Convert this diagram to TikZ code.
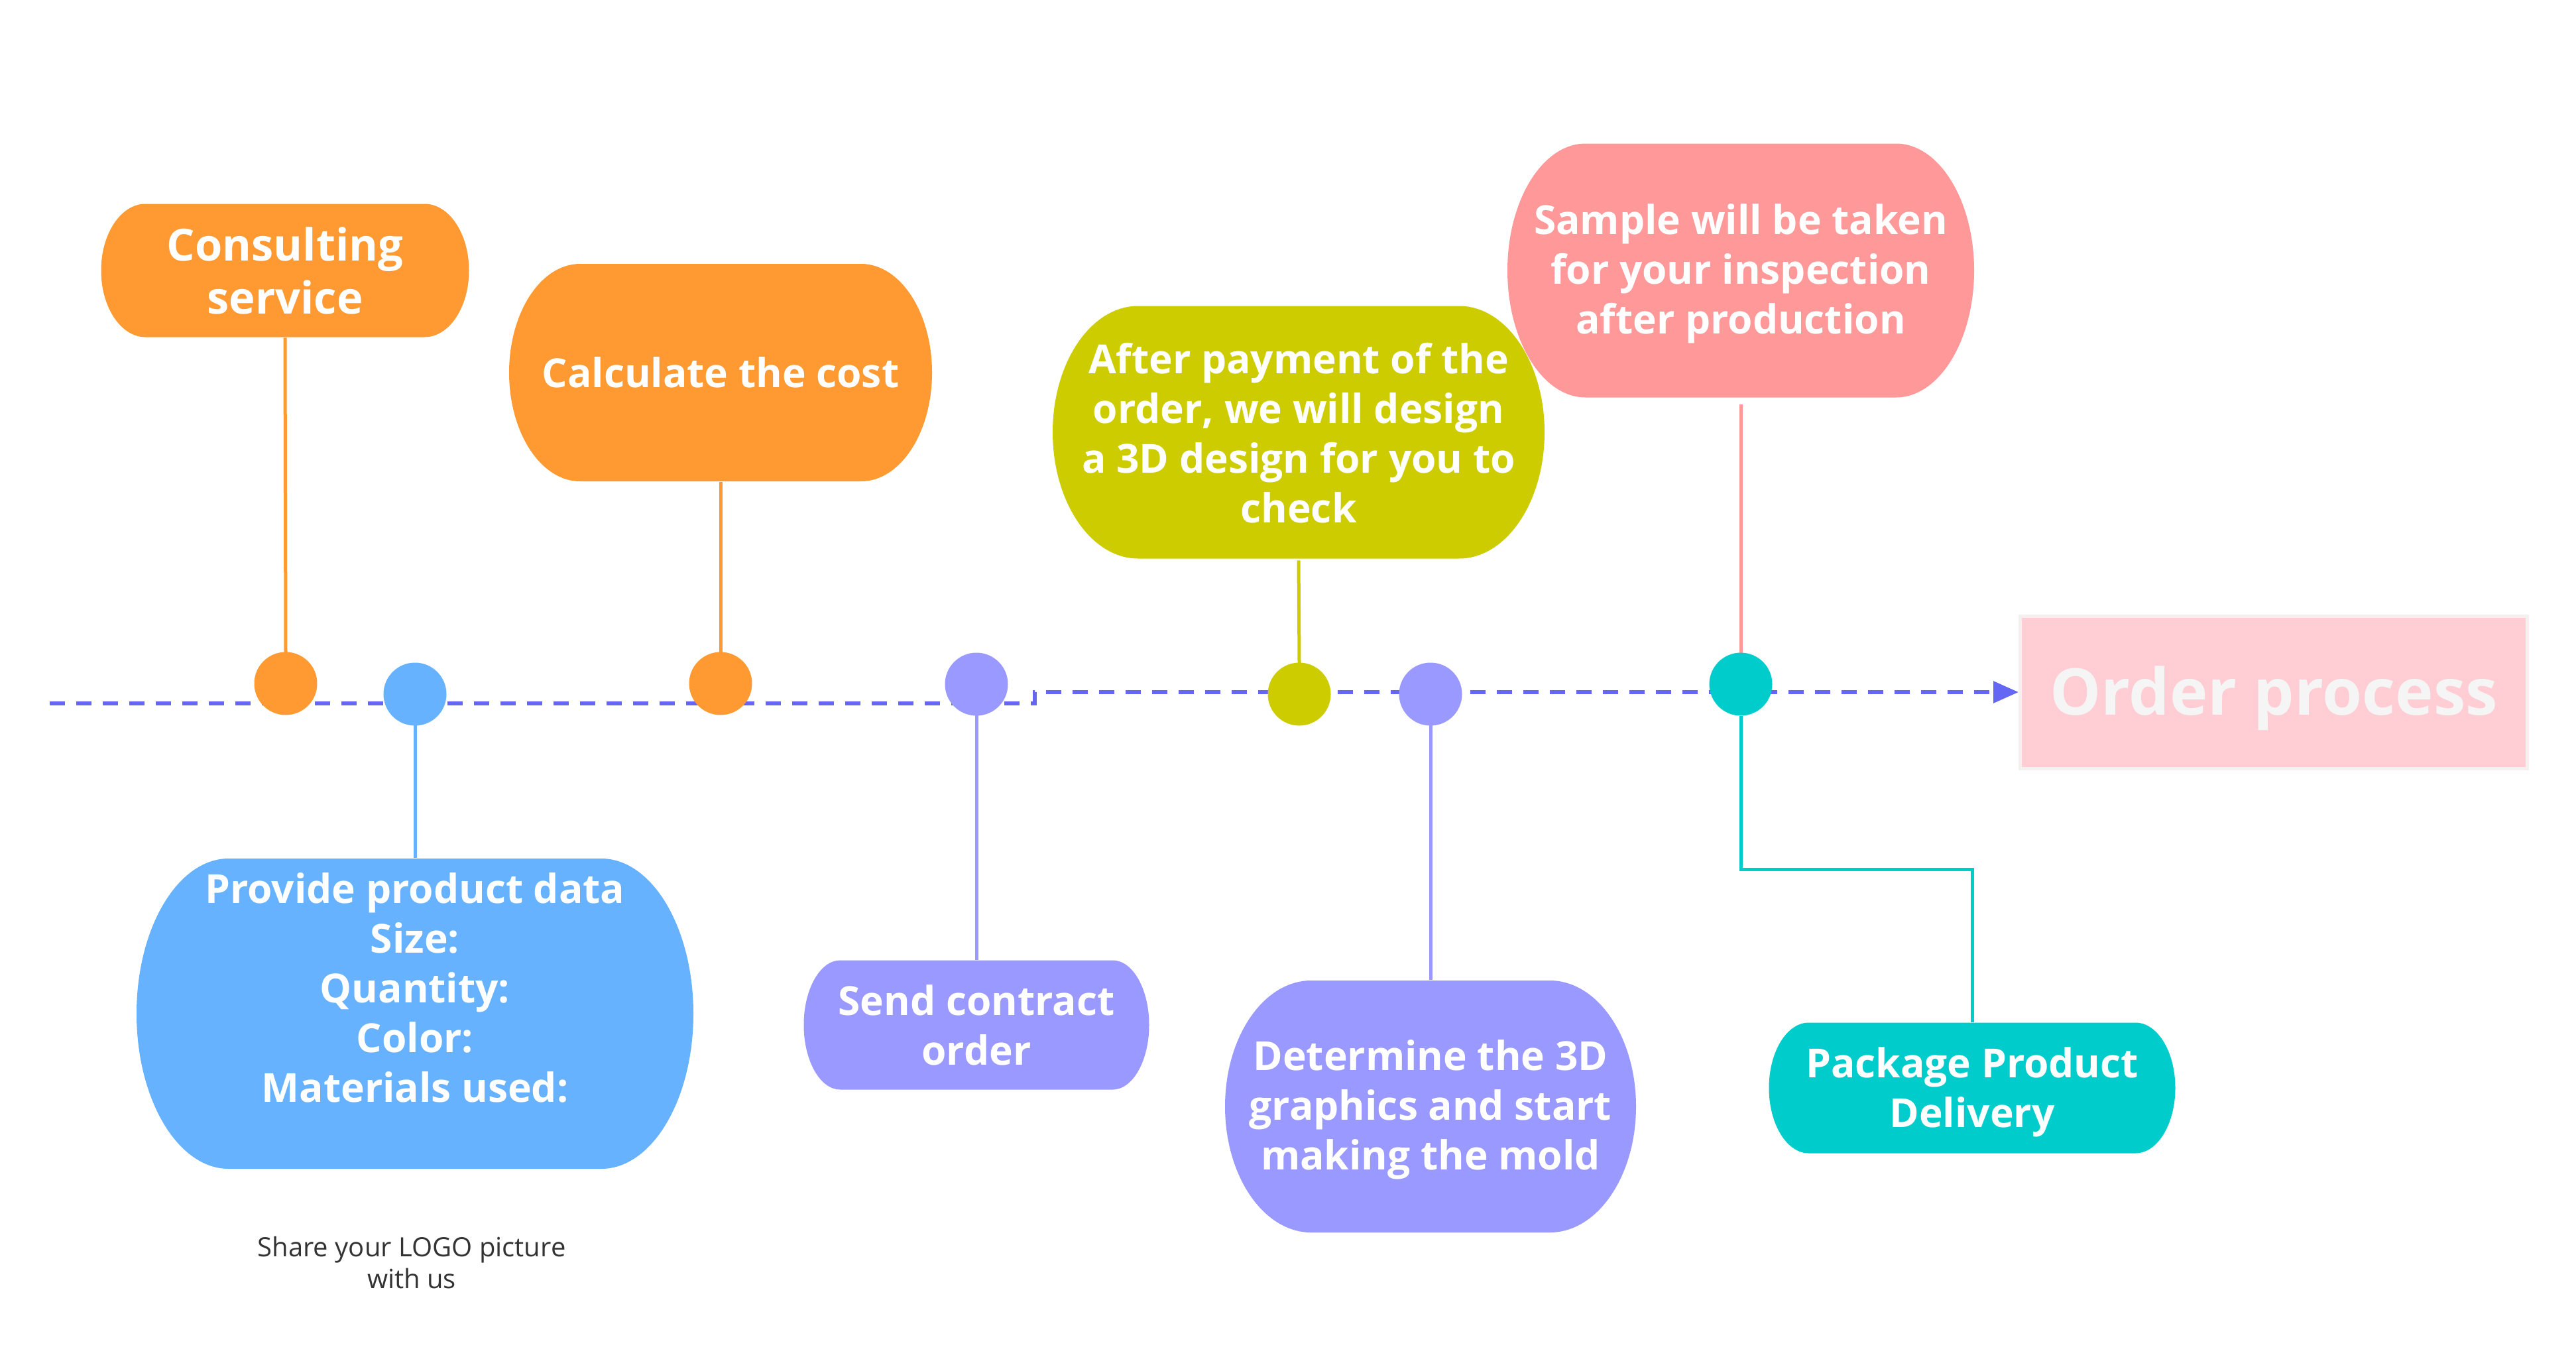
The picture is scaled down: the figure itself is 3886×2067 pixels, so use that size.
\documentclass[tikz,border=0pt]{standalone}
\usepackage{fontspec}
\setmainfont{Open Sans}
\usetikzlibrary{arrows.meta}
\definecolor{corange}{HTML}{FF9A33}
\definecolor{cblue}{HTML}{66B2FF}
\definecolor{cpurple}{HTML}{9999FF}
\definecolor{cyellow}{HTML}{CCCC00}
\definecolor{cpink}{HTML}{FF9999}
\definecolor{cteal}{HTML}{00CCCC}
\definecolor{cline}{HTML}{6666F5}
\definecolor{cobox}{HTML}{FFCDD3}
\definecolor{coborder}{HTML}{F4F0F0}
\definecolor{cotext}{HTML}{F5F5F5}
\definecolor{cshare}{HTML}{333333}
% name, colour, cx, cy, w, h, rx, text centre y, text
\newcommand\pbox[9]{%
  \fill[#2] (#3-#5/2+#7,#4-#6/2) -- (#3+#5/2-#7,#4-#6/2)
    arc[start angle=90,end angle=-90,x radius=#7*0.25pt,y radius=#6*0.125pt]
    -- (#3-#5/2+#7,#4+#6/2)
    arc[start angle=270,end angle=90,x radius=#7*0.25pt,y radius=#6*0.125pt] -- cycle;
  \node[boxtext,minimum width=#5*0.25pt,minimum height={2*(#8-(#4-#6/2))*0.25pt}] (#1) at (#3,#8) {#9};
}
\begin{document}
\begin{tikzpicture}[x=0.25pt,y=-0.25pt,
  boxtext/.style={inner sep=0pt,align=center,text=white,
    font=\fontsize{15.1}{18.75}\selectfont\bfseries},
  dot/.style={circle,inner sep=0pt,minimum size=95*0.25pt},
  conn/.style={line width=1.25pt},
  timeline/.style={draw=cline,line width=1.5pt,dash pattern=on 5.75pt off 4.25pt,
    -{Triangle[length=9.5pt,width=8pt]}},
]
\useasboundingbox (0,0) rectangle (3886,2067);

% order process box
\node[fill=cobox,draw=coborder,line width=1.25pt,minimum width=765*0.25pt,
  minimum height=230*0.25pt,inner sep=0pt,text=cotext,text height=17.4pt,text depth=0pt,
  font=\fontsize{24.3}{30}\selectfont\bfseries] (order) at (3430,1044) {Order process};

% timeline
\coordinate (tstart) at (75,1061);
\coordinate (stepA) at (1561,1061);
\coordinate (stepB) at (1561,1044);
\draw[timeline] (tstart) -- (stepA) -- (stepB) -- (order.west);

% boxes
\begin{scope}[boxtext/.append style={font=\fontsize{16.7}{20}\selectfont\bfseries}]
\pbox{consult}{corange}{430}{408}{555}{201}{67}{408}{Consulting\\service}
\end{scope}
\pbox{calc}{corange}{1087}{562}{638}{328}{107}{562}{Calculate the cost}
\pbox{pay}{cyellow}{1959}{652}{742}{381}{129}{653}{After payment of the\\order, we will design\\a 3D design for you to\\check}
\pbox{sample}{cpink}{2626}{408}{704}{383}{118}{413}{Sample will be taken\\for your inspection\\after production}
\pbox{provide}{cblue}{626}{1529}{840}{468}{139}{1490}{Provide product data\\Size:\\Quantity:\\Color:\\Materials used:}
\pbox{send}{cpurple}{1473}{1546}{521}{195}{55}{1546}{Send contract\\order}
\pbox{determine}{cpurple}{2158}{1669}{620}{380}{130}{1674}{Determine the 3D\\graphics and start\\making the mold}
\pbox{package}{cteal}{2975}{1641}{613}{197}{60}{1647}{Package Product\\Delivery}

% connectors
\draw[conn,corange] (consult.south) -- (431,984) coordinate (c1);
\draw[conn,cblue] (626,1094) coordinate (c2) -- (provide.north);
\draw[conn,corange] (calc.south) -- (1087,984) coordinate (c3);
\draw[conn,cpurple] (1473,1000) coordinate (c4) -- (send.north);
\draw[conn,cyellow] (pay.south) -- (1960,1000) coordinate (c5);
\draw[conn,cpurple] (2158,1060) coordinate (c6) -- (determine.north);
\draw[conn,cpink] (sample.south) -- (2626,1000) coordinate (c7);
\coordinate (bend) at (2975,1311);

% dots
\node[dot,fill=corange] (d1) at (431,1031) {};
\node[dot,fill=cblue] (d2) at (626,1047) {};
\node[dot,fill=corange] (d3) at (1087,1031) {};
\node[dot,fill=cpurple] (d4) at (1473,1032) {};
\node[dot,fill=cyellow] (d5) at (1960,1047) {};
\node[dot,fill=cpurple] (d6) at (2158,1047) {};
\node[dot,fill=cteal] (d7) at (2626,1032) {};
\draw[conn,cteal] (d7.south) |- (bend) -- (package.north);

% note
\node[align=center,text=cshare,inner sep=0pt,
  font=\fontsize{10}{12}\selectfont] (share) at (621,1904) {Share your LOGO picture\\with us};
\end{tikzpicture}
\end{document}
